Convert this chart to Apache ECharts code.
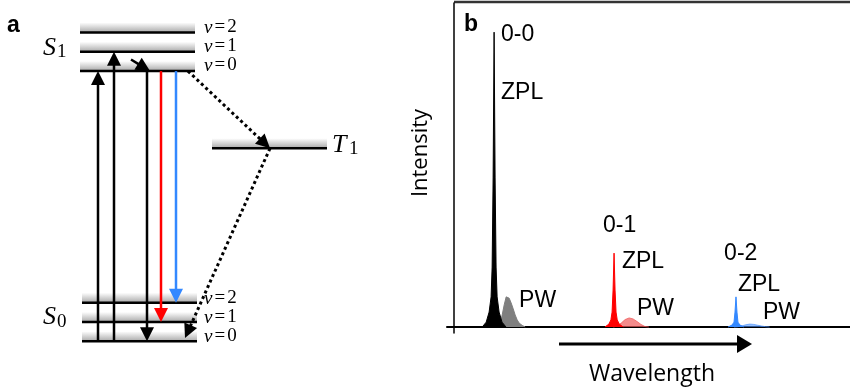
<!DOCTYPE html>
<html><head><meta charset="utf-8">
<script src="https://cdn.jsdelivr.net/npm/echarts@6/dist/echarts.min.js"></script>
<style>html,body{margin:0;padding:0;background:#fff}#c{width:850px;height:390px}</style>
</head><body><div id="c"></div>
<script>
// ---------- Panel a : Jablonski diagram (energy in vibrational-spacing units) ----------
const levelNames  = ['S0 v0','S0 v1','S0 v2','S1 v0','S1 v1','S1 v2','T1'];
const levelEnergy = [0, 1, 2, 14, 15, 16, 10];
const levelStart  = [82, 82, 82, 80, 80, 80, 212];
const levelEnd    = [197, 197, 197, 195, 195, 195, 327];

const arrowKind  = ['abs','abs','relax','emit','emitRed','emitBlue','isc','phos'];
const arrowFromX = [98, 114, 131, 147, 161, 176, 188, 270];
const arrowFromE = [0, 0, 14.6, 14, 14, 14, 14, 10];
const arrowToX   = [98, 114, 150, 147, 161, 176, 270, 185];
const arrowToE   = [14, 15, 14, 0, 1, 2, 10, 0.17];

// ---------- Panel b : spectrum (arbitrary wavelength / intensity units) ----------
const zpl00X = [7.1, 8.1, 8.84, 9.34, 9.6, 9.85, 10.1, 10.35, 10.6, 10.86, 11.36, 12.1, 13.1];
const zpl00Y = [0, 1.5, 4.6, 9.3, 18.5, 46, 91, 46, 18.5, 9.3, 4.6, 1.5, 0];
const pw00X  = [11.13, 11.63, 12.14, 12.64, 13.15, 13.4, 13.9, 14.41, 14.92, 15.42, 15.93, 16.43, 17.19, 17.95];
const pw00Y  = [0, 0.9, 3.7, 6.8, 9.3, 9.6, 8.9, 7.4, 5.6, 3.7, 2.2, 1.2, 0.5, 0];
const zpl01X = [38.1, 39.1, 39.6, 39.9, 40.15, 40.4, 40.65, 40.9, 41.2, 41.7, 42.7];
const zpl01Y = [0, 0.9, 2.2, 4.6, 11.4, 22.8, 11.4, 4.6, 2.2, 0.9, 0];
const pw01X  = [40.2, 41.2, 42.2, 43.2, 44.2, 45.2, 46.2, 47.2, 48.2, 49.2];
const pw01Y  = [0, 0.3, 1.2, 2.3, 2.8, 2.5, 1.7, 0.8, 0.15, 0];
const zpl02X = [69.2, 70.2, 70.7, 70.95, 71.2, 71.45, 71.7, 72.2, 73.2];
const zpl02Y = [0, 0.6, 1.5, 4.6, 9.3, 4.6, 1.5, 0.6, 0];
const pw02X  = [70.7, 71.7, 72.7, 73.7, 74.7, 75.7, 76.7, 77.7, 78.7, 79.7];
const pw02Y  = [0, 0.1, 0.35, 0.7, 0.9, 0.8, 0.55, 0.3, 0.1, 0];

const annoText = ['0-0','ZPL','PW','0-1','ZPL','PW','0-2','ZPL','PW'];
const annoX    = [11.84, 11.84, 16.4, 37.6, 42.4, 46.2, 68.2, 71.7, 78.0];
const annoY    = [90.1, 72.2, 8.0, 31.2, 20.1, 5.6, 22.5, 13.0, 4.3];

// ---------------------------------------------------------------
const SERIF = '"Liberation Serif","DejaVu Serif",serif';
const SANS = '"Liberation Sans",Arial,sans-serif';
const CAL = '"Open Sans",Lato,sans-serif';
const zip = (xs, ys) => xs.map((x, i) => [x, ys[i]]);

const arrowColor = {abs:'#000', relax:'#000', emit:'#000', emitRed:'#ff0000', emitBlue:'#3388ff', isc:'#000', phos:'#000'};

function renderLevel(params, api) {
  const p1 = api.coord([api.value(0), api.value(2)]);
  const p2 = api.coord([api.value(1), api.value(2)]);
  return {type:'group', children:[
    {type:'rect', shape:{x:p1[0], y:p1[1]-10, width:p2[0]-p1[0], height:10},
     style:{fill:new echarts.graphic.LinearGradient(0,0,0,1,[{offset:0,color:'#ffffff'},{offset:1,color:'#a8a8a8'}])}},
    {type:'line', shape:{x1:p1[0], y1:p1[1], x2:p2[0], y2:p2[1]}, style:{stroke:'#000', lineWidth:2.5}}
  ]};
}
function renderArrow(params, api) {
  const kind = arrowKind[params.dataIndex];
  const col = arrowColor[kind];
  const dotted = kind === 'isc' || kind === 'phos';
  const p1 = api.coord([api.value(0), api.value(1)]);
  const p2 = api.coord([api.value(2), api.value(3)]);
  const dx = p2[0]-p1[0], dy = p2[1]-p1[1], len = Math.hypot(dx, dy);
  const ux = dx/len, uy = dy/len, nx = -uy, ny = ux;
  const hl = 14, hw = 7;
  const bx = p2[0]-ux*hl, by = p2[1]-uy*hl;
  return {type:'group', children:[
    {type:'line', shape:{x1:p1[0], y1:p1[1], x2:bx+ux*2, y2:by+uy*2},
     style:{stroke:col, lineWidth: dotted ? 3 : 2.5, lineDash: dotted ? [3,3] : null}},
    {type:'polygon', shape:{points:[[p2[0],p2[1]],[bx+nx*hw,by+ny*hw],[bx-nx*hw,by-ny*hw]]},
     style:{fill:col}}
  ]};
}

function peak(xs, ys, line, fill, z) {
  return {type:'line', xAxisIndex:1, yAxisIndex:1, data:zip(xs, ys), showSymbol:false, symbol:'none',
    lineStyle:{width:1, color:line}, areaStyle:{color:fill, opacity:1}, z:z, silent:true};
}

function nuLabel(d, x, y) {
  return {type:'text', left:x, top:y-11, style:{text:'{n|ν}{e|=}{d|' + d + '}',
    rich:{n:{fontFamily:SERIF, fontStyle:'italic', fontSize:19, fill:'#000'}, e:{fontFamily:SERIF, fontSize:19, padding:[0,2,0,2]}, d:{fontFamily:SERIF, fontSize:19}}}};
}

const option = {
  animation:false,
  backgroundColor:'#fff',
  grid:[
    {left:0, top:3.55, width:400, height:366.7, show:false},
    {left:447, top:3, width:403, height:330, show:false}
  ],
  xAxis:[
    {gridIndex:0, type:'value', min:0, max:400, show:false},
    {gridIndex:1, type:'value', min:-1.8, max:100, axisLine:{show:true, onZero:true, lineStyle:{color:'#000', width:2}},
     axisTick:{show:false}, axisLabel:{show:false}, splitLine:{show:false}}
  ],
  yAxis:[
    {gridIndex:0, type:'value', min:-1.5, max:17.5, show:false},
    {gridIndex:1, type:'value', min:-1.85, max:100, axisLine:{show:true, onZero:true, lineStyle:{color:'#000', width:1.5}},
     axisTick:{show:false}, axisLabel:{show:false}, splitLine:{show:false}}
  ],
  series:[
    {type:'custom', name:'levels', coordinateSystem:'cartesian2d', xAxisIndex:0, yAxisIndex:0,
     data: levelNames.map((n,i)=>[levelStart[i], levelEnd[i], levelEnergy[i]]),
     encode:{x:[0,1], y:2}, renderItem:renderLevel, z:2, silent:true},
    {type:'custom', name:'transitions', coordinateSystem:'cartesian2d', xAxisIndex:0, yAxisIndex:0,
     data: arrowKind.map((k,i)=>[arrowFromX[i], arrowFromE[i], arrowToX[i], arrowToE[i]]),
     encode:{x:[0,2], y:[1,3]}, renderItem:renderArrow, z:3, silent:true},
    peak(pw00X, pw00Y, '#7f7f7f', '#7f7f7f', 2),
    peak(zpl00X, zpl00Y, '#000', '#000', 3),
    peak(pw01X, pw01Y, 'rgba(240,90,90,0.75)', 'rgba(240,90,90,0.7)', 2),
    peak(zpl01X, zpl01Y, '#ff0000', '#ff0000', 3),
    peak(pw02X, pw02Y, 'rgba(80,150,255,0.7)', 'rgba(80,150,255,0.6)', 2),
    peak(zpl02X, zpl02Y, '#3388ff', '#3388ff', 3),
    {type:'scatter', xAxisIndex:1, yAxisIndex:1, symbolSize:0, silent:true, z:5,
     itemStyle:{opacity:1},
     data: annoText.map((t,i)=>({value:[annoX[i], annoY[i]], name:t})),
     label:{show:true, position:'right', distance:0, formatter:p=>p.name, color:'#000', opacity:1, fontFamily:SANS, fontSize:23}}
  ],
  graphic:[
    {type:'text', left:7, top:14, style:{text:'a', font:'bold 23px ' + SANS, fill:'#000'}},
    {type:'text', left:464, top:13, style:{text:'b', font:'bold 23px ' + SANS, fill:'#000'}},
    {type:'text', left:43, top:35, style:{text:'S', font:'italic 26px ' + SERIF, fill:'#000'}},
    {type:'text', left:57, top:43, style:{text:'1', font:'19px ' + SERIF, fill:'#000'}},
    {type:'text', left:43, top:304, style:{text:'S', font:'italic 26px ' + SERIF, fill:'#000'}},
    {type:'text', left:57, top:313, style:{text:'0', font:'19px ' + SERIF, fill:'#000'}},
    {type:'text', left:332, top:132, style:{text:'T', font:'italic 26px ' + SERIF, fill:'#000'}},
    {type:'text', left:349, top:140, style:{text:'1', font:'19px ' + SERIF, fill:'#000'}},
    nuLabel(2, 204, 29), nuLabel(1, 204, 48), nuLabel(0, 204, 67),
    nuLabel(2, 204, 300), nuLabel(1, 204, 319), nuLabel(0, 204, 338),
    {type:'line', shape:{x1:454, y1:2, x2:850, y2:2}, style:{stroke:'#333', lineWidth:2.5}},
    {type:'line', shape:{x1:559, y1:344, x2:740, y2:344}, style:{stroke:'#000', lineWidth:3}},
    {type:'polygon', shape:{points:[[737,335],[752,344],[737,353]]}, style:{fill:'#000'}},
    {type:'text', x:652, y:374, style:{text:'Wavelength', font:'23px ' + CAL, fill:'#000', align:'center', verticalAlign:'middle'}},
    {type:'text', x:421, y:153, rotation:Math.PI/2, style:{text:'Intensity', font:'22px ' + CAL, fill:'#000', align:'center', verticalAlign:'middle'}}
  ]
};
const chart = echarts.init(document.getElementById('c'));
chart.setOption(option);
</script>
</body></html>
